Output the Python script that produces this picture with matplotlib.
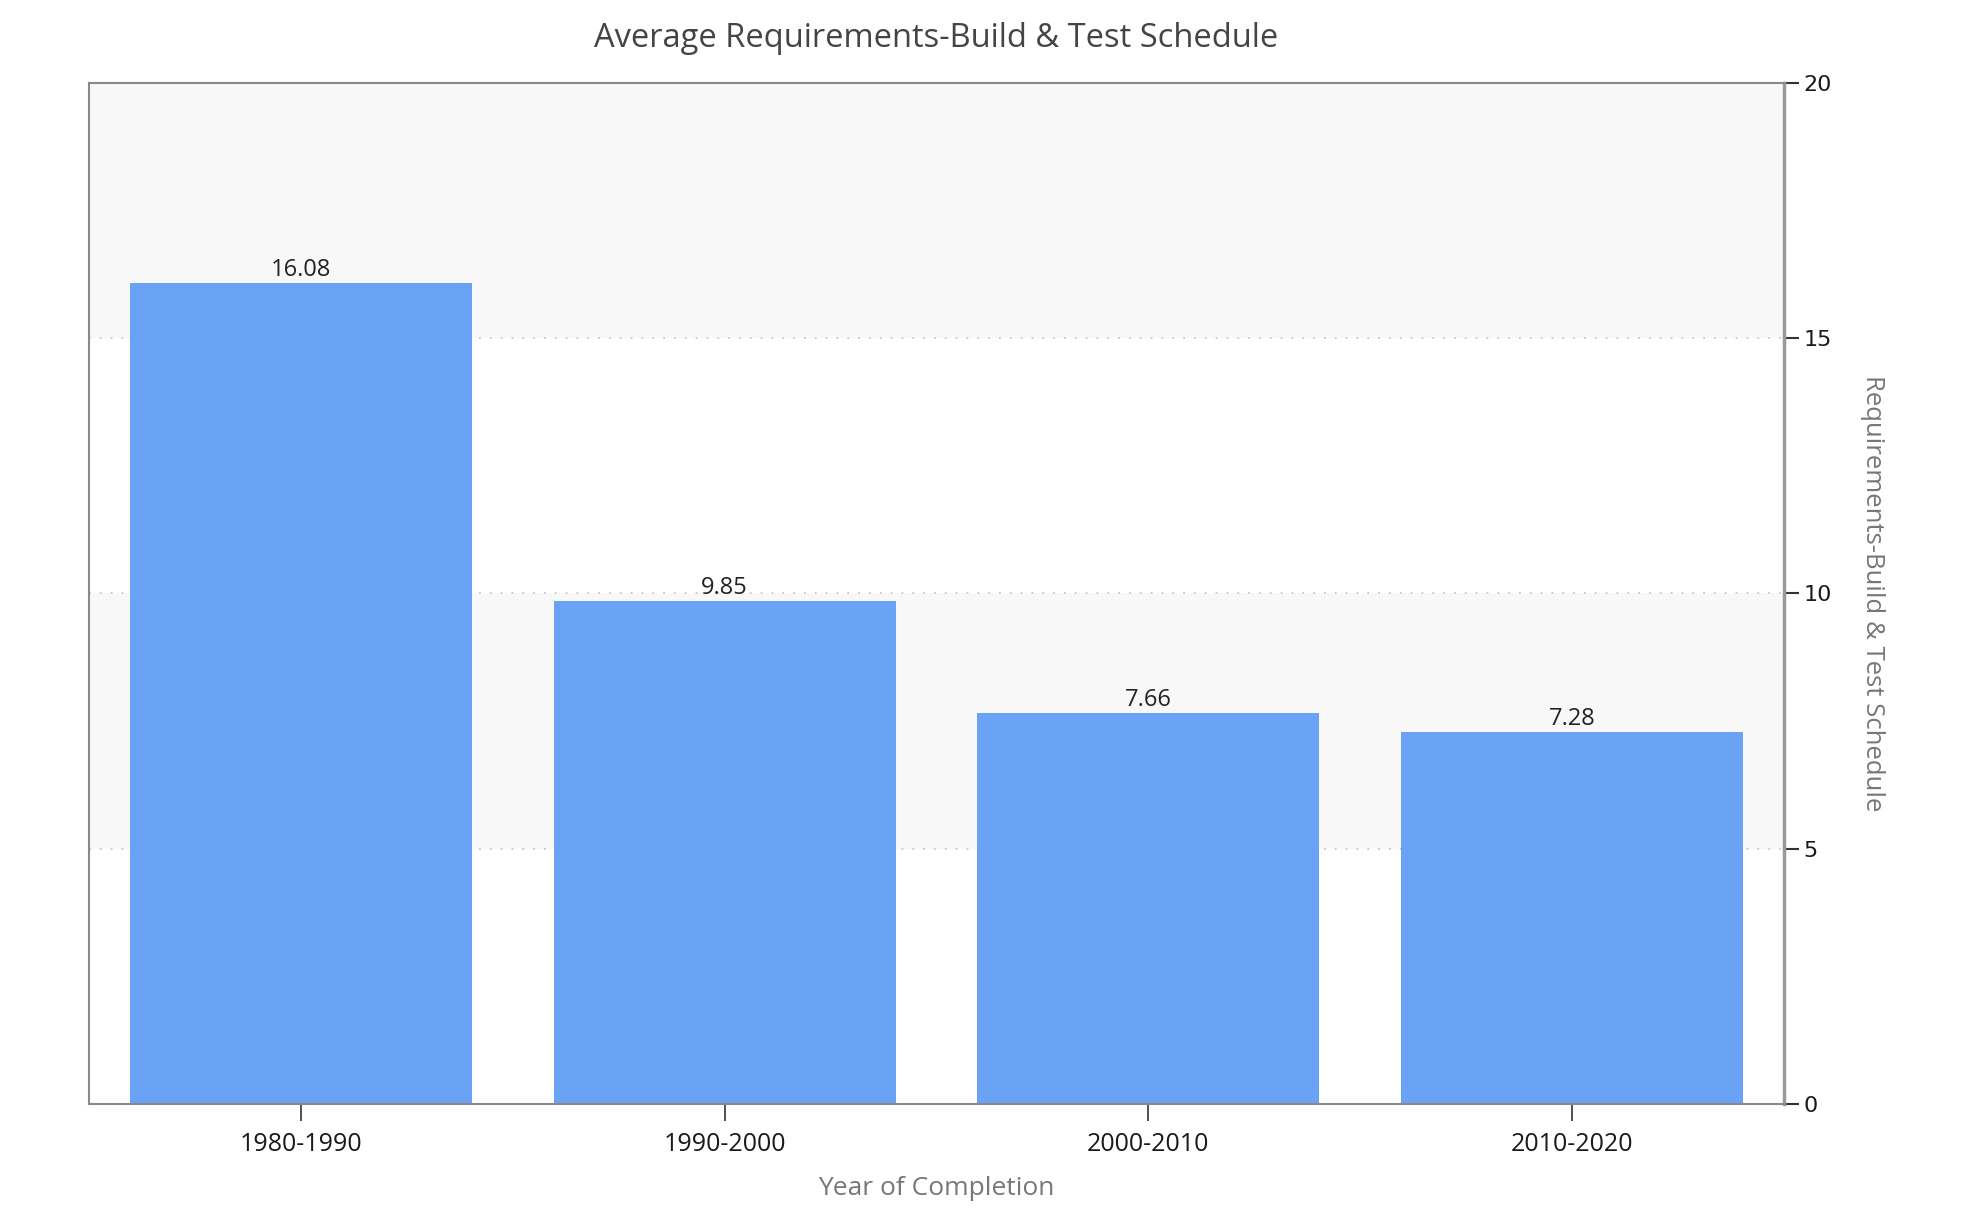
import matplotlib
matplotlib.use("Agg")
import matplotlib.pyplot as plt

categories = ["1980-1990", "1990-2000", "2000-2010", "2010-2020"]
values = [16.08, 9.85, 7.66, 7.28]
yticks = [0, 5, 10, 15, 20]

plt.rcParams['font.family'] = ['Open Sans', 'DejaVu Sans']

fig = plt.figure(figsize=(19.7, 12.22), dpi=100)
ax = fig.add_axes([0.0452, 0.0966, 0.9056 - 0.0452, 0.9321 - 0.0966])

ax.set_xlim(-0.5, len(categories) - 0.5)
ax.set_ylim(0, 20)

# alternating bands
for i in range(len(yticks) - 1):
    if i % 2 == 1:
        ax.axhspan(yticks[i], yticks[i + 1], color="#f8f8f8", zorder=0, lw=0)
for y in yticks[1:-1]:
    ax.axhline(y, color="#c8c8c8", lw=1.3, ls=(0, (1, 5)), zorder=1)

x = list(range(len(categories)))
ax.bar(x, values, width=0.807, color="#6aa3f5", zorder=2)
for xi, v in zip(x, values):
    ax.text(xi, v + 0.02, f"{v:.2f}", ha="center", va="bottom", fontsize=17, color="#222222", zorder=3)

ax.set_xticks(x)
ax.set_xticklabels(categories, fontsize=18, color="#1a1a1a")
ax.yaxis.tick_right()
ax.yaxis.set_label_position("right")
ax.set_yticks(yticks)
ax.set_yticklabels([str(t) for t in yticks], fontsize=16, color="#1a1a1a", family="DejaVu Sans")
ax.tick_params(axis="x", length=12, width=1.2, color="#333333", pad=8)
ax.tick_params(axis="y", length=11, width=1.5, color="#333333", pad=3)

for side in ["left", "top", "bottom"]:
    ax.spines[side].set_color("#8a8a8a")
    ax.spines[side].set_linewidth(1.5)
ax.spines["right"].set_color("#999999")
ax.spines["right"].set_linewidth(2.5)

ax.set_xlabel("Year of Completion", fontsize=19, color="#777777", labelpad=14)
ax.set_ylabel("Requirements-Build & Test Schedule", fontsize=18.5, color="#777777",
              rotation=270, labelpad=38)
ax.set_title("Average Requirements-Build & Test Schedule", fontsize=23.5, color="#444444", pad=26)

fig.savefig("out.png", dpi=100, facecolor="white")
